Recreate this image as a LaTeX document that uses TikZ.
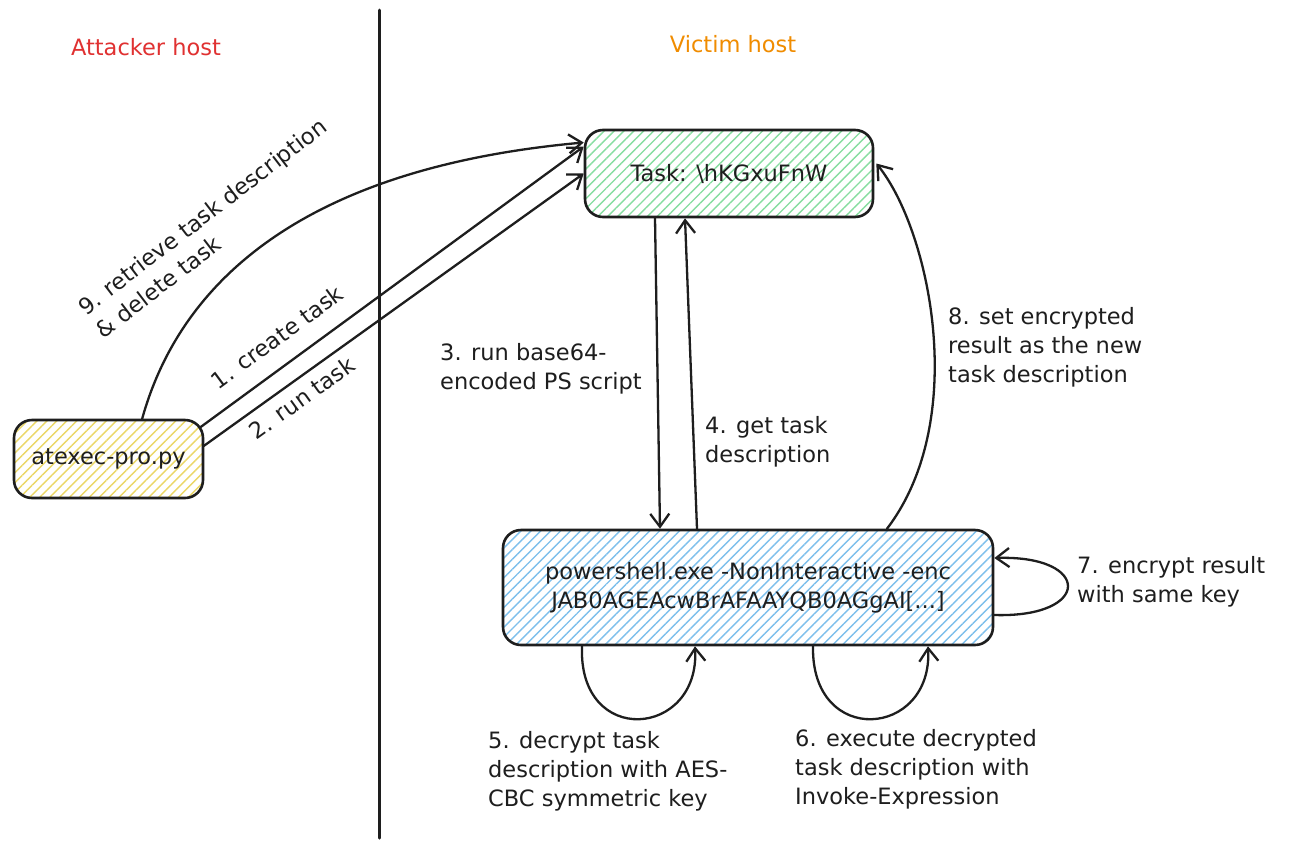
\documentclass[tikz,border=0pt]{standalone}
\usepackage{fontspec}
\setmainfont{DejaVu Sans}
\usetikzlibrary{arrows.meta,patterns.meta,calc}
\definecolor{ink}{HTML}{1E1E1E}
\definecolor{hgreen}{HTML}{86DDA0}
\definecolor{hyellow}{HTML}{EBD766}
\definecolor{hblue}{HTML}{7DBFEC}
\definecolor{attred}{HTML}{E03131}
\definecolor{vicorange}{HTML}{F08C00}
\tikzset{
  box/.style={draw=ink, line width=2.6pt, rounded corners=18pt, inner sep=0pt,
    font=\fontsize{22.5}{29}\selectfont, text=ink, align=center},
  hatch/.style={pattern={Lines[angle=45,distance=7pt,line width=1.4pt]}, pattern color=#1},
  lbl/.style={font=\fontsize{22.5}{29}\selectfont, text=ink, align=left, inner sep=0pt},
  arr/.style={draw=ink, line width=2.3pt, line cap=round, line join=round,
    -{Straight Barb[length=13pt,width=19pt,line width=2.3pt]}},
}
\begin{document}
\begin{tikzpicture}[x=1pt,y=-1pt]
\useasboundingbox[fill=white] (0,0) rectangle (1289,844);

% divider
\draw[ink, line width=3pt, line cap=round] (379,10) -- (379,838);

% headings
\node[font=\fontsize{22.5}{29}\selectfont, text=attred, inner sep=0pt] (lattack) at (146,47) {Attacker host};
\node[font=\fontsize{22.5}{29}\selectfont, text=vicorange, inner sep=0pt] (lvictim) at (733,44) {Victim host};

% nodes
\node[box, hatch=hyellow, minimum width=189pt, minimum height=78pt] (atk) at (108.5,459) {atexec-pro.py};
\node[box, hatch=hgreen, minimum width=288pt, minimum height=87pt] (task) at (729,173.5) {Task: \textbackslash hKGxuFnW};
\node[box, hatch=hblue, minimum width=490pt, minimum height=115pt] (ps) at (748,587.5)
  {powershell.exe -NonInteractive -enc\\JAB0AGEAcwBrAFAAYQB0AGgAI[...]};

% 9. retrieve
\draw[arr] ([xshift=33.5pt]atk.north) .. controls (175,300) and (280,170) .. ([yshift=31pt]task.west);
% 1. create task
\draw[arr] ([xshift=-3pt,yshift=32pt]atk.east) -- ([yshift=27pt]task.west);
% 2. run task
\draw[arr] ([yshift=13pt]atk.east) -- ([yshift=0pt]task.west);

% 3 and 4
\draw[arr] ([xshift=-74pt]task.south) -- ([xshift=-88pt]ps.north);
\draw[arr] ([xshift=-51pt]ps.north) -- ([xshift=-44pt]task.south);

% 8
\draw[arr] ([xshift=139pt]ps.north) .. controls (970,420) and (930,230) .. ([xshift=2pt,yshift=10pt]task.east);

% 7 self loop right
\draw[arr] ([yshift=-27.5pt]ps.east) .. controls (1092,618) and (1092,555) .. ([yshift=29.5pt]ps.east);

% 5 and 6 loops bottom
\draw[arr] ([xshift=-166pt]ps.south) .. controls (578,748) and (700,738) .. ([xshift=-53pt]ps.south);
\draw[arr] ([xshift=65pt]ps.south) .. controls (811,748) and (933,738) .. ([xshift=180pt]ps.south);

% labels
\node[lbl, rotate=37.5] (l9) at (211,228) {9. retrieve task description\\\& delete task};
\node[lbl, rotate=36.3] (l1) at (277,337) {1. create task};
\node[lbl, rotate=35.7] (l2) at (302,398) {2. run task};
\node[lbl, anchor=west] (l3) at (440,369) {3. run base64-\\encoded PS script};
\node[lbl, anchor=west] (l4) at (705,442) {4. get task\\description};
\node[lbl, anchor=west] (l8) at (948,347) {8. set encrypted\\result as the new\\task description};
\node[lbl, anchor=west] (l7) at (1077,582) {7. encrypt result\\with same key};
\node[lbl, anchor=west] (l5) at (488,771) {5. decrypt task\\description with AES-\\CBC symmetric key};
\node[lbl, anchor=west] (l6) at (795,769) {6. execute decrypted\\task description with\\Invoke-Expression};
\end{tikzpicture}
\end{document}
